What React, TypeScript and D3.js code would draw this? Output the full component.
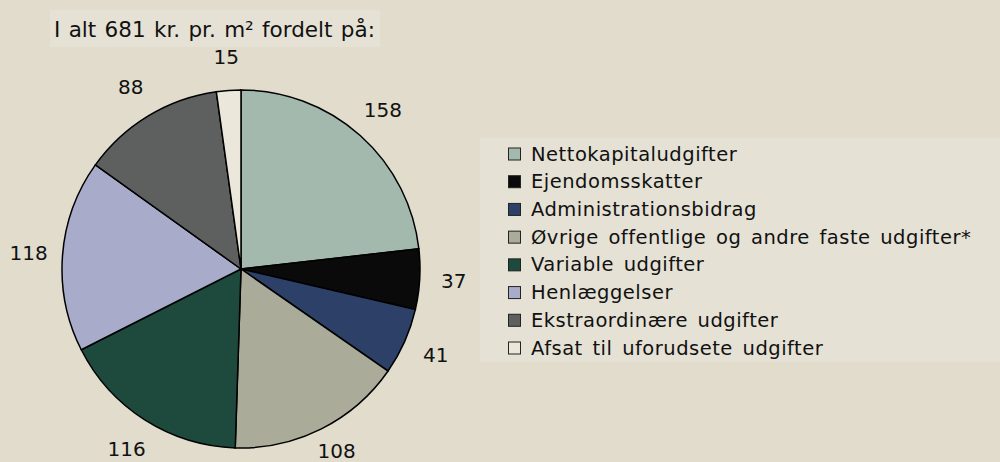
import React from "react";
import * as d3 from "d3";

const categories = [
  "Nettokapitaludgifter",
  "Ejendomsskatter",
  "Administrationsbidrag",
  "Øvrige offentlige og andre faste udgifter*",
  "Variable udgifter",
  "Henlæggelser",
  "Ekstraordinære udgifter",
  "Afsat til uforudsete udgifter",
];
const values = [158, 37, 41, 108, 116, 118, 88, 15];
const colors = ["#a3b9ae", "#0a0a0a", "#2c4068", "#abab9a", "#1d4a3c", "#a8abc9", "#5e5f5f", "#ebe7db"];
const title = "I alt 681 kr. pr. m² fordelt på:";

export default function App() {
  const W = 1000, H = 462;
  const cx = 241, cy = 269, r = 179;
  const pie = d3.pie<number>().sort(null).value((d) => d)(values);
  const arc = d3.arc<d3.PieArcDatum<number>>().innerRadius(0).outerRadius(r);
  const labelR = 213;
  const font = "'DejaVu Sans', Verdana, sans-serif";
  const legendY = d3.scalePoint<number>().domain(d3.range(categories.length)).range([154, 348]);
  return (
    <svg width={W} height={H} style={{ position: "absolute", left: 0, top: 0, background: "#e1dccc" }} fontFamily={font}>
      <rect x={0} y={0} width={W} height={H} fill="#e1dccc" />
      <rect x={50} y={10} width={330} height={37} fill="#e5e1d5" />
      <text x={54} y={37} fontSize={21.5} wordSpacing={1.5} fill="#111">{title}</text>
      <g transform={`translate(${cx},${cy})`}>
        {pie.map((p, i) => (
          <path key={i} d={arc(p) || ""} fill={colors[i]} stroke="#000" strokeWidth={1.5} />
        ))}
        {pie.map((p, i) => {
          const a = (p.startAngle + p.endAngle) / 2;
          const x = Math.sin(a) * labelR;
          const y = Math.min(-Math.cos(a) * labelR, H - cy - 11);
          return (
            <text key={"l" + i} x={x} y={y} textAnchor="middle" dominantBaseline="central" fontSize={20} fill="#111">
              {values[i]}
            </text>
          );
        })}
      </g>
      <rect x={480} y={138} width={520} height={224} fill="#e5e1d5" />
      {categories.map((c, i) => (
        <g key={c} transform={`translate(0,${legendY(i)})`}>
          <rect x={508.5} y={-6} width={12} height={12} fill={colors[i]} stroke="#222" strokeWidth={1} />
          <text x={531} y={0} dominantBaseline="central" fontSize={19.5} fill="#111" letterSpacing={0.5} wordSpacing={3}>{c}</text>
        </g>
      ))}
    </svg>
  );
}
